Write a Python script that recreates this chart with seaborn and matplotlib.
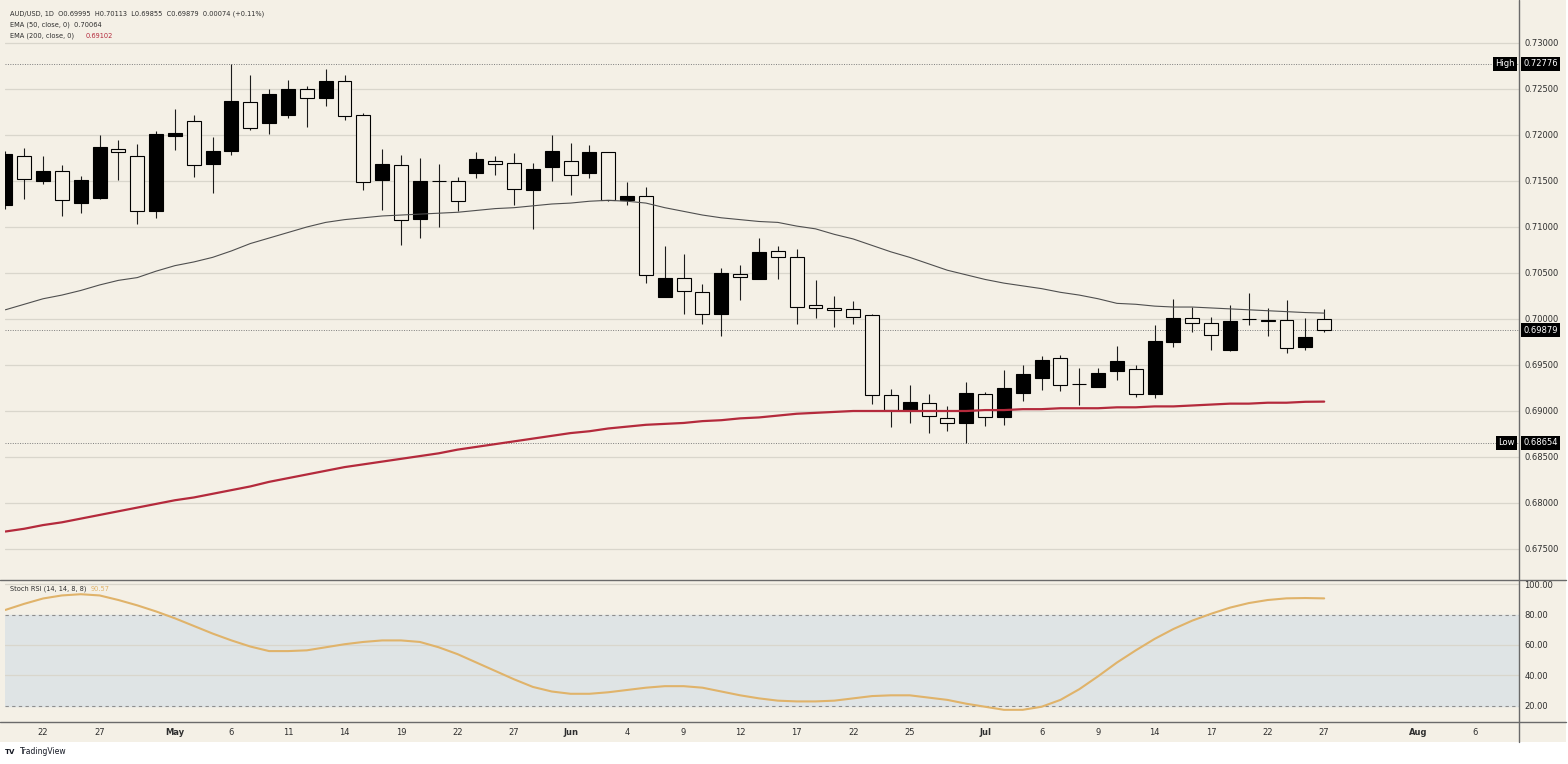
import numpy as np
import pandas as pd
import seaborn as sns
import matplotlib.pyplot as plt
from matplotlib.lines import Line2D
from matplotlib.patches import Rectangle
from matplotlib.transforms import blended_transform_factory

# AUD/USD daily bars
days = pd.bdate_range("2026-04-20", "2026-07-27")
axis_days = pd.bdate_range("2026-04-20", "2026-08-14")

opens = [0.7124, 0.7177, 0.7150, 0.7161, 0.7126, 0.7132, 0.7185, 0.7177, 0.7117, 0.7199,
         0.7215, 0.7169, 0.7183, 0.7236, 0.7213, 0.7222, 0.7250, 0.7240, 0.7259, 0.7222,
         0.7151, 0.7167, 0.7109, 0.71505, 0.7150, 0.7159, 0.7172, 0.7170, 0.7140, 0.7165,
         0.7172, 0.7159, 0.7181, 0.7129, 0.7134, 0.7024, 0.7045, 0.7029, 0.7005, 0.7049,
         0.7044, 0.7074, 0.7067, 0.7015, 0.7012, 0.7011, 0.7004, 0.6917, 0.6901, 0.6909,
         0.6892, 0.6887, 0.6919, 0.6893, 0.6920, 0.6936, 0.6958, 0.69295, 0.6926, 0.6943,
         0.6946, 0.6918, 0.6975, 0.7001, 0.6996, 0.6966, 0.70000, 0.69986, 0.6999, 0.6970,
         0.69995]
highs = [0.7183, 0.7186, 0.7177, 0.7167, 0.7155, 0.7200, 0.7195, 0.7190, 0.7204, 0.7228,
         0.7222, 0.7198, 0.72776, 0.7265, 0.7250, 0.7260, 0.7253, 0.7272, 0.7265, 0.7224,
         0.7185, 0.7178, 0.7175, 0.7169, 0.7154, 0.7182, 0.7177, 0.7180, 0.7170, 0.7200,
         0.7191, 0.7189, 0.7182, 0.7149, 0.7144, 0.7079, 0.7071, 0.7038, 0.7055, 0.7059,
         0.7088, 0.7079, 0.7076, 0.7042, 0.7025, 0.7020, 0.7005, 0.6924, 0.6928, 0.6919,
         0.6905, 0.6931, 0.6921, 0.6945, 0.6950, 0.6960, 0.6961, 0.6947, 0.6947, 0.6971,
         0.6950, 0.6993, 0.7022, 0.7013, 0.7002, 0.7015, 0.7028, 0.7012, 0.7021, 0.7001,
         0.70113]
lows = [0.7120, 0.7130, 0.7147, 0.7112, 0.7115, 0.7130, 0.7151, 0.7103, 0.7110, 0.7184,
        0.7154, 0.7137, 0.7178, 0.7205, 0.7201, 0.7218, 0.7209, 0.7232, 0.7216, 0.7140,
        0.7119, 0.7080, 0.7088, 0.7100, 0.7117, 0.7153, 0.7156, 0.7124, 0.7098, 0.7150,
        0.7135, 0.7153, 0.7128, 0.7124, 0.7039, 0.7024, 0.7005, 0.6995, 0.6981, 0.7021,
        0.7044, 0.7043, 0.6995, 0.7001, 0.6991, 0.6995, 0.6908, 0.6883, 0.6887, 0.6876,
        0.6878, 0.68654, 0.6884, 0.6885, 0.6911, 0.6923, 0.6922, 0.6907, 0.6926, 0.6934,
        0.6915, 0.6914, 0.6970, 0.6986, 0.6966, 0.6965, 0.6994, 0.6982, 0.6963, 0.6966,
        0.69855]
closes = [0.7179, 0.7152, 0.7161, 0.7129, 0.7151, 0.7187, 0.7181, 0.7117, 0.7201, 0.7202,
          0.7167, 0.7183, 0.7237, 0.7208, 0.7245, 0.7250, 0.7240, 0.7259, 0.7221, 0.7149,
          0.7169, 0.7108, 0.7150, 0.7150, 0.7128, 0.7174, 0.7168, 0.7141, 0.7163, 0.7183,
          0.7157, 0.7181, 0.7129, 0.7134, 0.7048, 0.7045, 0.7030, 0.7005, 0.7050, 0.7046,
          0.7073, 0.7067, 0.7013, 0.7012, 0.7010, 0.7002, 0.6917, 0.6901, 0.6910, 0.6895,
          0.6887, 0.6920, 0.6893, 0.6925, 0.6940, 0.6955, 0.6928, 0.6929, 0.6941, 0.6954,
          0.6919, 0.6976, 0.7001, 0.6996, 0.6983, 0.6998, 0.69995, 0.69975, 0.6969, 0.69805,
          0.69879]

ema50 = [0.7010, 0.7016, 0.7022, 0.7026, 0.7031, 0.7037, 0.7042, 0.7045, 0.7052, 0.7058,
         0.7062, 0.7067, 0.7074, 0.7082, 0.7088, 0.7094, 0.7100, 0.7105, 0.7108, 0.7110,
         0.7112, 0.7113, 0.7114, 0.7115, 0.7116, 0.7118, 0.7120, 0.7121, 0.7123, 0.7125,
         0.7126, 0.7128, 0.7129, 0.7128, 0.7126, 0.7121, 0.7117, 0.7113, 0.7110, 0.7108,
         0.7106, 0.7105, 0.7101, 0.7098, 0.7092, 0.7087, 0.7080, 0.7073, 0.7067, 0.7060,
         0.7053, 0.7048, 0.7043, 0.7039, 0.7036, 0.7033, 0.7029, 0.7026, 0.7022, 0.7017,
         0.7016, 0.7014, 0.7013, 0.7013, 0.7012, 0.7011, 0.7010, 0.7009, 0.7008, 0.7007,
         0.70064]
ema200 = [0.6769, 0.6772, 0.6776, 0.6779, 0.6783, 0.6787, 0.6791, 0.6795, 0.6799, 0.6803,
          0.6806, 0.6810, 0.6814, 0.6818, 0.6823, 0.6827, 0.6831, 0.6835, 0.6839, 0.6842,
          0.6845, 0.6848, 0.6851, 0.6854, 0.6858, 0.6861, 0.6864, 0.6867, 0.6870, 0.6873,
          0.6876, 0.6878, 0.6881, 0.6883, 0.6885, 0.6886, 0.6887, 0.6889, 0.6890, 0.6892,
          0.6893, 0.6895, 0.6897, 0.6898, 0.6899, 0.6900, 0.6900, 0.6900, 0.6900, 0.6900,
          0.6900, 0.6900, 0.6901, 0.6901, 0.6902, 0.6902, 0.6903, 0.6903, 0.6903, 0.6904,
          0.6904, 0.6905, 0.6905, 0.6906, 0.6907, 0.6908, 0.6908, 0.6909, 0.6909, 0.6910,
          0.69102]
stoch_rsi = [83, 87, 90.5, 92.5, 93.3, 92.5, 89.5, 86, 82, 77.5,
             72.5, 67.5, 63, 59, 56, 56, 56.5, 58.5, 60.5, 62,
             63, 63, 62, 58.5, 54, 48.5, 43, 37.5, 32.5, 29.5,
             28, 28, 29, 30.5, 32, 33, 33, 32, 29.5, 27,
             25, 23.5, 23, 23, 23.5, 25, 26.5, 27, 27, 25.5,
             24, 21.5, 19.5, 17.5, 17.5, 19.5, 24, 31, 39.5, 48.5,
             56.5, 64, 70.5, 76, 80.5, 84.5, 87.5, 89.5, 90.6, 90.8,
             90.57]

price_ticks = [0.675, 0.680, 0.685, 0.690, 0.695, 0.700, 0.705, 0.710, 0.715, 0.720, 0.725, 0.730]
rsi_ticks = [20, 40, 60, 80, 100]
tick_dates = ["2026-04-22", "2026-04-27", "2026-05-01", "2026-05-06", "2026-05-11", "2026-05-14",
              "2026-05-19", "2026-05-22", "2026-05-27", "2026-06-01", "2026-06-04", "2026-06-09",
              "2026-06-12", "2026-06-17", "2026-06-22", "2026-06-25", "2026-07-01", "2026-07-06",
              "2026-07-09", "2026-07-14", "2026-07-17", "2026-07-22", "2026-07-27", "2026-08-03",
              "2026-08-06"]
tick_labels = ["22", "27", "May", "6", "11", "14", "19", "22", "27", "Jun", "4", "9", "12", "17",
               "22", "25", "Jul", "6", "9", "14", "17", "22", "27", "Aug", "6"]

# ---- style ----
sns.set_theme(style="white")
plt.rcParams["font.family"] = ["DejaVu Sans"]

W, H = 1568, 764
BG = "#f4f0e6"
GRID = "#d9d6cc"
TXT = "#2e2e2e"
RED = "#b42a3c"
ORANGE = "#e0b36a"

fig = plt.figure(figsize=(W / 100, H / 100), dpi=100, facecolor="white")
fig.patches.append(Rectangle((0, 22 / H), 1566 / W, 1 - 22 / H, transform=fig.transFigure,
                             facecolor=BG, edgecolor="none", zorder=-10))

ax_p = fig.add_axes([5 / W, 1 - 579 / H, 1514 / W, 575 / H])
ax_r = fig.add_axes([5 / W, 1 - 722 / H, 1514 / W, 141 / H])
for ax in (ax_p, ax_r):
    ax.set_facecolor(BG)
    for s in ax.spines.values():
        s.set_visible(False)
    ax.set_xlim(-0.02, 80.34)

# ---- price panel ----
df = pd.DataFrame({"date": days, "open": opens, "high": highs, "low": lows, "close": closes})
df["x"] = np.arange(len(df))
up = df["close"] > df["open"]

ax_p.set_ylim(0.671739, 0.734239)
for p in price_ticks:
    ax_p.axhline(p, color=GRID, lw=0.9, zorder=0)

hi, lo, last = max(highs), min(lows), closes[-1]
for lvl in (hi, lo, last):
    ax_p.axhline(lvl, color="#7d7d7d", lw=0.7, ls=(0, (1, 1.5)), zorder=1)

ax_p.vlines(df["x"], df["low"], df["high"], color="#1c1c1c", lw=0.8, zorder=2)
body_lo = np.minimum(df["open"], df["close"])
body_h = np.maximum((df["close"] - df["open"]).abs(), 0.00002)
ax_p.bar(df["x"], body_h, bottom=body_lo, width=0.74,
         color=np.where(up, "black", BG), edgecolor="black", linewidth=0.8, zorder=3)

sns.lineplot(x=df["x"], y=ema50, ax=ax_p, color="#4f4f4f", lw=0.8, zorder=4, legend=False)
sns.lineplot(x=df["x"], y=ema200, ax=ax_p, color=RED, lw=1.6, zorder=4, legend=False)

ax_p.set_xticks([])
ax_p.yaxis.tick_right()
ax_p.set_yticks(price_ticks, [f"{p:.5f}" for p in price_ticks])
ax_p.tick_params(axis="y", length=0, pad=4, labelsize=6, labelcolor=TXT)
ax_p.set_xlabel("")
ax_p.set_ylabel("")

tr = blended_transform_factory(ax_p.transAxes, ax_p.transData)
box = dict(boxstyle="square,pad=0.3", fc="black", ec="none")
for lvl in (hi, last, lo):
    ax_p.text(1.0027, lvl, f"{lvl:.5f}", transform=tr, ha="left", va="center",
              fontsize=6, color="white", bbox=box, zorder=10, clip_on=False)
ax_p.text(0.9972, hi, "High", transform=tr, ha="right", va="center",
          fontsize=6, color="white", bbox=box, zorder=10)
ax_p.text(0.9972, lo, "Low", transform=tr, ha="right", va="center",
          fontsize=6, color="white", bbox=box, zorder=10)

# ---- stoch RSI panel ----
ax_r.set_ylim(9.5, 101.97)
ax_r.axhspan(20, 80, color="#dfe4e5", zorder=0)
for lvl in (40, 60, 100):
    ax_r.axhline(lvl, color=GRID, lw=0.9, zorder=1)
for lvl in (20, 80):
    ax_r.axhline(lvl, color="#8e8e8e", lw=0.8, ls=(0, (3, 3)), zorder=1)
sns.lineplot(x=df["x"], y=stoch_rsi, ax=ax_r, color=ORANGE, lw=1.5, zorder=3, legend=False)

ax_r.yaxis.tick_right()
ax_r.set_yticks(rsi_ticks, [f"{v:.2f}" for v in rsi_ticks])
ax_r.tick_params(axis="y", length=0, pad=4, labelsize=6, labelcolor=TXT)
tick_pos = [axis_days.get_loc(pd.Timestamp(d)) for d in tick_dates]
ax_r.set_xticks(tick_pos, tick_labels)
ax_r.tick_params(axis="x", length=0, pad=4, labelsize=6, labelcolor=TXT)
for t in ax_r.get_xticklabels():
    if t.get_text().isalpha():
        t.set_fontweight("bold")
ax_r.set_xlabel("")
ax_r.set_ylabel("")

# ---- frame lines ----
for y in (580, 722):
    fig.add_artist(Line2D([0, 1566 / W], [1 - y / H, 1 - y / H], color="#6a6a6a", lw=1.0))
fig.add_artist(Line2D([1519 / W, 1519 / W], [1 - 742 / H, 1], color="#6a6a6a", lw=1.0))

# ---- legends ----
chg = closes[-1] - closes[-2]
fig.text(10 / W, 1 - 14 / H,
         f"AUD/USD, 1D  O{opens[-1]:.5f}  H{highs[-1]:.5f}  L{lows[-1]:.5f}  C{closes[-1]:.5f}  "
         f"{chg:.5f} (+{chg / closes[-2] * 100:.2f}%)",
         fontsize=4.8, color=TXT, va="center")
fig.text(10 / W, 1 - 25 / H, f"EMA (50, close, 0)  {ema50[-1]:.5f}", fontsize=4.8, color=TXT, va="center")
fig.text(10 / W, 1 - 36 / H, "EMA (200, close, 0)", fontsize=4.8, color=TXT, va="center")
fig.text(86 / W, 1 - 36 / H, f"{ema200[-1]:.5f}", fontsize=4.8, color=RED, va="center")
fig.text(10 / W, 1 - 589 / H, "Stoch RSI (14, 14, 8, 8)", fontsize=4.8, color=TXT, va="center")
fig.text(91 / W, 1 - 589 / H, f"{stoch_rsi[-1]:.2f}", fontsize=4.8, color=ORANGE, va="center")

fig.text(5 / W, 1 - 752 / H, "TV", fontsize=5, fontweight="bold", color="#131722", va="center")
fig.text(20 / W, 1 - 752 / H, "TradingView", fontsize=5.5, color="#131722", va="center")

fig.savefig("out.png", dpi=100, facecolor=fig.get_facecolor())
